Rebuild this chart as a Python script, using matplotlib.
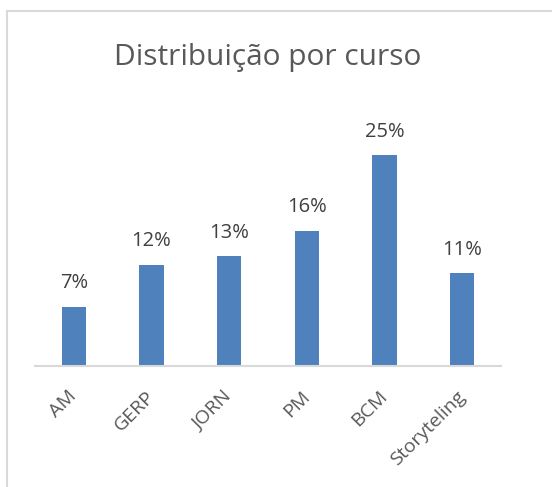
import matplotlib.pyplot as plt
from matplotlib.patches import Rectangle

# Chart data
cursos = ['AM', 'GERP', 'JORN', 'PM', 'BCM', 'Storyteling']
percent = [7, 12, 13, 16, 25, 11]

plt.rcParams['font.family'] = ['Open Sans', 'DejaVu Sans']

fig = plt.figure(figsize=(5.52, 4.87), dpi=100)

# light gray chart frame (cropped on right and bottom, like the reference)
fig.patches.append(Rectangle((7 / 552, -0.05), 1.1, 1 - 11 / 487 + 0.05,
                             transform=fig.transFigure, fill=False,
                             edgecolor='#D9D9D9', linewidth=1.5))

ax = fig.add_axes([35 / 552, 121 / 487, 466 / 552, 253 / 487])
x = range(len(cursos))
bars = ax.bar(x, percent, width=0.31, color='#4F81BD')

ax.set_xlim(-0.5, len(cursos) - 0.5)
ax.set_ylim(0, 30)

for b, v in zip(bars, percent):
    ax.annotate(f'{v}%', (b.get_x() + b.get_width() / 2, v),
                xytext=(0, 17), textcoords='offset points',
                ha='center', va='center', fontsize=14.5, color='#404040')

ax.set_xticks(list(x))
ax.set_xticklabels(cursos, rotation=45, ha='right', va='center',
                   rotation_mode='anchor', fontsize=14, color='#595959')
ax.tick_params(axis='x', length=0, pad=20)
ax.set_yticks([])

for s in ['top', 'right', 'left']:
    ax.spines[s].set_visible(False)
ax.spines['bottom'].set_color('#D9D9D9')
ax.spines['bottom'].set_linewidth(1.5)

fig.text(268 / 552, 1 - 57 / 487, 'Distribuição por curso', ha='center',
         va='center', fontsize=21.5, color='#595959')

fig.savefig('out.png', dpi=100)
